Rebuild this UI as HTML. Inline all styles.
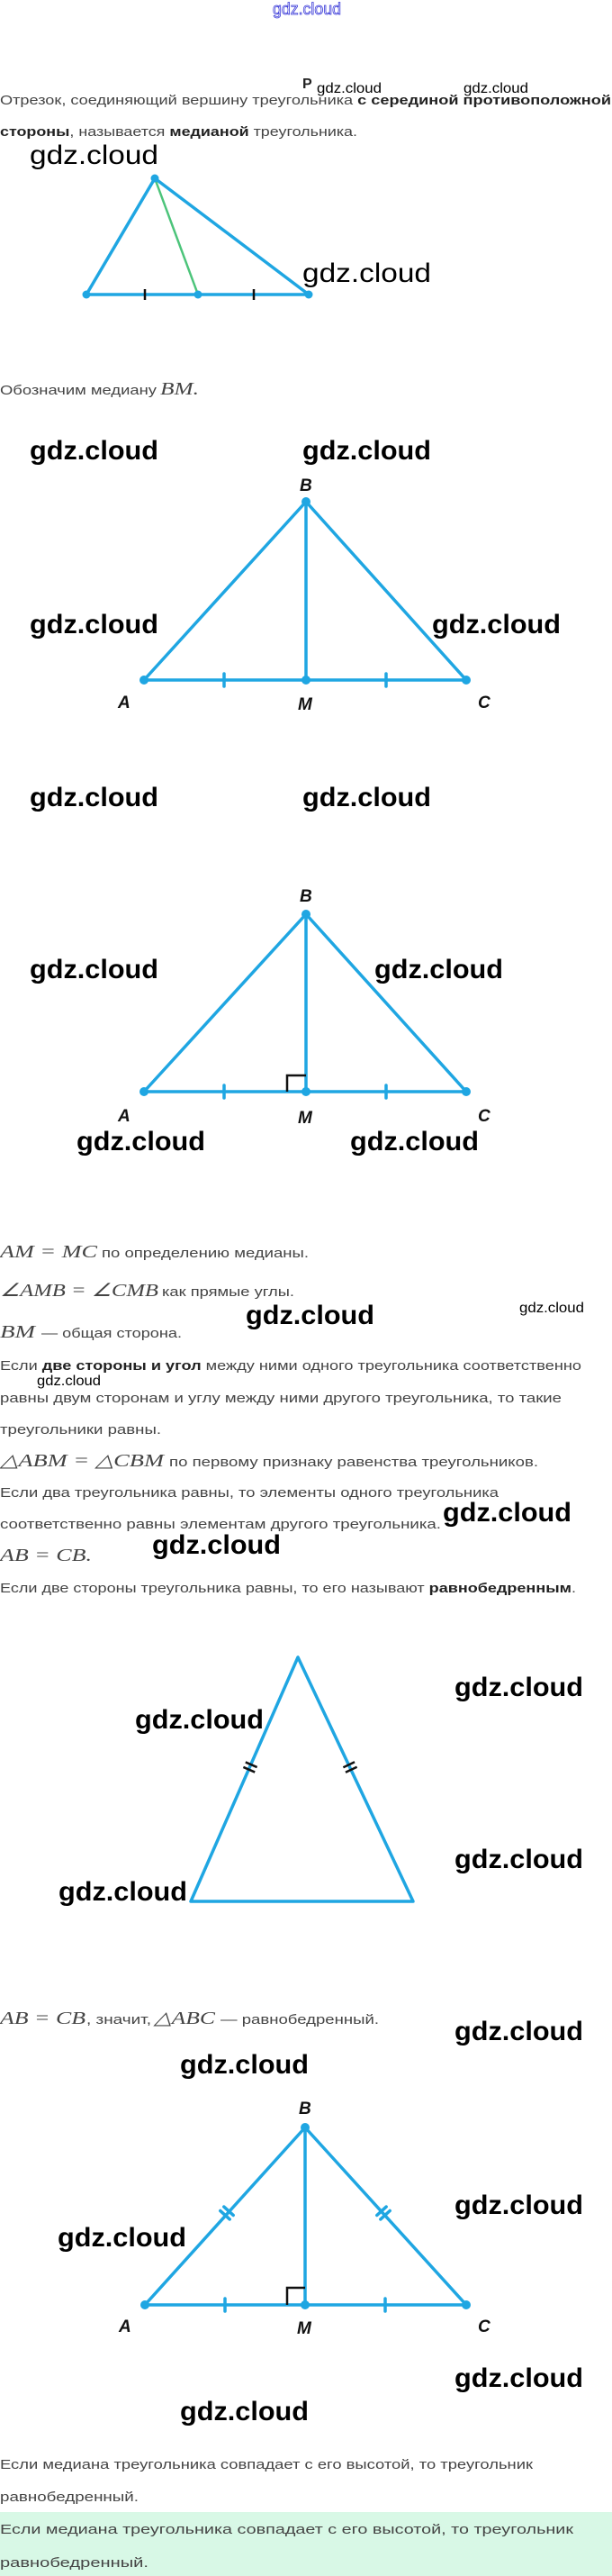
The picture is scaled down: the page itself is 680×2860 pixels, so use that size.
<!DOCTYPE html>
<html><head><meta charset="utf-8"><style>
html,body{margin:0;padding:0;background:#fff;}
svg{display:block;}
.t{font-family:"Liberation Sans","Noto Sans CJK SC",sans-serif;font-size:15px;fill:#444;}
.b{font-weight:bold;fill:#222;}
.m{font-family:"Liberation Serif",serif;font-style:italic;font-size:20px;fill:#444;}
.w{font-family:"Liberation Sans",sans-serif;font-size:30px;font-weight:bold;fill:#000;}
.wr{font-family:"Liberation Sans",sans-serif;font-size:30px;fill:#000;}
.ws{font-family:"Liberation Sans",sans-serif;font-size:16px;fill:#000;}
.L{font-family:"Liberation Sans",sans-serif;font-size:19px;font-weight:bold;font-style:italic;fill:#111;}
.s{stroke:#1fa6e2;stroke-width:3.5;fill:none;stroke-linecap:round;stroke-linejoin:round;}
.k{stroke:#111;stroke-width:2.5;}
.p{fill:#1fa6e2;}
</style></head><body>
<svg width="680" height="2860" viewBox="0 0 680 2860" xmlns="http://www.w3.org/2000/svg">
<text x="303" y="16" font-family="Liberation Sans,sans-serif" font-size="18" fill="none" stroke="#3a3ad8" stroke-width="0.8" textLength="76" lengthAdjust="spacingAndGlyphs">gdz.cloud</text>
<text x="336" y="98" font-family="Liberation Sans,sans-serif" font-size="16" font-weight="bold" fill="#222">Р</text>
<text x="352" y="103" class="ws" font-size="18" textLength="72" lengthAdjust="spacingAndGlyphs">gdz.cloud</text>
<text x="515" y="103" class="ws" font-size="18" textLength="72" lengthAdjust="spacingAndGlyphs">gdz.cloud</text>
<text x="0" y="116" class="t" textLength="679" lengthAdjust="spacingAndGlyphs">Отрезок, соединяющий вершину треугольника <tspan class="b">с серединой противоположной</tspan></text>
<text x="0" y="151" class="t" textLength="397" lengthAdjust="spacingAndGlyphs"><tspan class="b">стороны</tspan>, называется <tspan class="b">медианой</tspan> треугольника.</text>
<text x="33" y="182" class="wr" textLength="143" lengthAdjust="spacingAndGlyphs">gdz.cloud</text>
<path class="s" d="M172 198 L96 327 L343 327 Z"/>
<line x1="172" y1="198" x2="220" y2="327" stroke="#4cc47a" stroke-width="2.5"/>
<line class="k" x1="161" y1="321" x2="161" y2="333"/><line class="k" x1="282" y1="321" x2="282" y2="333"/>
<circle class="p" cx="172" cy="198" r="4.5"/><circle class="p" cx="96" cy="327" r="4.5"/><circle class="p" cx="220" cy="327" r="4.5"/><circle class="p" cx="343" cy="327" r="4.5"/>
<text x="336" y="313" class="wr" textLength="143" lengthAdjust="spacingAndGlyphs">gdz.cloud</text>
<text x="0" y="438" class="t" textLength="174" lengthAdjust="spacingAndGlyphs">Обозначим медиану</text>
<text x="178" y="438" class="m" textLength="43" lengthAdjust="spacingAndGlyphs">BM.</text>
<text x="33" y="510" class="w" textLength="143" lengthAdjust="spacingAndGlyphs">gdz.cloud</text>
<text x="336" y="510" class="w" textLength="143" lengthAdjust="spacingAndGlyphs">gdz.cloud</text>
<path class="s" d="M340 557 L160 755 L518 755 Z M340 557 L340 755"/>
<line class="s" x1="249" y1="748" x2="249" y2="762"/><line class="s" x1="429" y1="748" x2="429" y2="762"/>
<circle class="p" cx="340" cy="557" r="5"/><circle class="p" cx="160" cy="755" r="5"/><circle class="p" cx="340" cy="755" r="5"/><circle class="p" cx="518" cy="755" r="5"/>
<text x="333" y="545" class="L">B</text><text x="131" y="786" class="L">A</text><text x="331" y="788" class="L">M</text><text x="531" y="786" class="L">C</text>
<text x="33" y="703" class="w" textLength="143" lengthAdjust="spacingAndGlyphs">gdz.cloud</text>
<text x="480" y="703" class="w" textLength="143" lengthAdjust="spacingAndGlyphs">gdz.cloud</text>
<text x="33" y="895" class="w" textLength="143" lengthAdjust="spacingAndGlyphs">gdz.cloud</text>
<text x="336" y="895" class="w" textLength="143" lengthAdjust="spacingAndGlyphs">gdz.cloud</text>
<path class="s" d="M340 1015 L160 1212 L518 1212 Z M340 1015 L340 1212"/>
<line class="s" x1="249" y1="1205" x2="249" y2="1219"/><line class="s" x1="429" y1="1205" x2="429" y2="1219"/>
<path d="M319 1212 V1194 H340" fill="none" stroke="#111" stroke-width="2.5"/>
<circle class="p" cx="340" cy="1015" r="5"/><circle class="p" cx="160" cy="1212" r="5"/><circle class="p" cx="340" cy="1212" r="5"/><circle class="p" cx="518" cy="1212" r="5"/>
<text x="333" y="1001" class="L">B</text><text x="131" y="1245" class="L">A</text><text x="331" y="1247" class="L">M</text><text x="531" y="1245" class="L">C</text>
<text x="33" y="1086" class="w" textLength="143" lengthAdjust="spacingAndGlyphs">gdz.cloud</text>
<text x="416" y="1086" class="w" textLength="143" lengthAdjust="spacingAndGlyphs">gdz.cloud</text>
<text x="85" y="1277" class="w" textLength="143" lengthAdjust="spacingAndGlyphs">gdz.cloud</text>
<text x="389" y="1277" class="w" textLength="143" lengthAdjust="spacingAndGlyphs">gdz.cloud</text>
<text x="0" y="1396" class="m" textLength="108" lengthAdjust="spacingAndGlyphs">AM = MC</text><text x="113" y="1396" class="t" textLength="230" lengthAdjust="spacingAndGlyphs">по определению медианы.</text>
<text x="0" y="1439" class="m" textLength="176" lengthAdjust="spacingAndGlyphs">∠AMB = ∠CMB</text><text x="180" y="1439" class="t" textLength="147" lengthAdjust="spacingAndGlyphs">как прямые углы.</text>
<text x="273" y="1470" class="w" textLength="143" lengthAdjust="spacingAndGlyphs">gdz.cloud</text>
<text x="577" y="1457" class="ws" textLength="72" lengthAdjust="spacingAndGlyphs">gdz.cloud</text>
<text x="0" y="1485" class="m" textLength="39" lengthAdjust="spacingAndGlyphs">BM</text><text x="46" y="1485" class="t" textLength="156" lengthAdjust="spacingAndGlyphs">— общая сторона.</text>
<text x="0" y="1521" class="t" textLength="646" lengthAdjust="spacingAndGlyphs">Если <tspan class="b">две стороны и угол</tspan> между ними одного треугольника соответственно</text>
<text x="41" y="1538" class="ws" textLength="71" lengthAdjust="spacingAndGlyphs">gdz.cloud</text>
<text x="0" y="1557" class="t" textLength="624" lengthAdjust="spacingAndGlyphs">равны двум сторонам и углу между ними другого треугольника, то такие</text>
<text x="0" y="1592" class="t" textLength="179" lengthAdjust="spacingAndGlyphs">треугольники равны.</text>
<text x="0" y="1628" class="m" textLength="182" lengthAdjust="spacingAndGlyphs">△ABM = △CBM</text><text x="188" y="1628" class="t" textLength="410" lengthAdjust="spacingAndGlyphs">по первому признаку равенства треугольников.</text>
<text x="0" y="1662" class="t" textLength="554" lengthAdjust="spacingAndGlyphs">Если два треугольника равны, то элементы одного треугольника</text>
<text x="0" y="1697" class="t" textLength="490" lengthAdjust="spacingAndGlyphs">соответственно равны элементам другого треугольника.</text>
<text x="492" y="1689" class="w" textLength="143" lengthAdjust="spacingAndGlyphs">gdz.cloud</text>
<text x="0" y="1733" class="m" textLength="102" lengthAdjust="spacingAndGlyphs">AB = CB.</text>
<text x="169" y="1725" class="w" textLength="143" lengthAdjust="spacingAndGlyphs">gdz.cloud</text>
<text x="0" y="1768" class="t" textLength="640" lengthAdjust="spacingAndGlyphs">Если две стороны треугольника равны, то его называют <tspan class="b">равнобедренным</tspan>.</text>
<path class="s" d="M331 1840 L212 2111 L459 2111 Z"/>
<g transform="translate(278,1962) rotate(-66.3)"><line class="k" x1="-3" y1="-7" x2="-3" y2="7"/><line class="k" x1="3" y1="-7" x2="3" y2="7"/></g>
<g transform="translate(389,1962) rotate(64.7)"><line class="k" x1="-3" y1="-7" x2="-3" y2="7"/><line class="k" x1="3" y1="-7" x2="3" y2="7"/></g>
<text x="505" y="1883" class="w" textLength="143" lengthAdjust="spacingAndGlyphs">gdz.cloud</text>
<text x="150" y="1919" class="w" textLength="143" lengthAdjust="spacingAndGlyphs">gdz.cloud</text>
<text x="505" y="2074" class="w" textLength="143" lengthAdjust="spacingAndGlyphs">gdz.cloud</text>
<text x="65" y="2110" class="w" textLength="143" lengthAdjust="spacingAndGlyphs">gdz.cloud</text>
<text x="0" y="2247" class="m" textLength="95" lengthAdjust="spacingAndGlyphs">AB = CB</text><text x="96" y="2247" class="t" textLength="72" lengthAdjust="spacingAndGlyphs">, значит,</text><text x="171" y="2247" class="m" textLength="68" lengthAdjust="spacingAndGlyphs">△ABC</text><text x="245" y="2247" class="t" textLength="176" lengthAdjust="spacingAndGlyphs">— равнобедренный.</text>
<text x="505" y="2265" class="w" textLength="143" lengthAdjust="spacingAndGlyphs">gdz.cloud</text>
<text x="200" y="2302" class="w" textLength="143" lengthAdjust="spacingAndGlyphs">gdz.cloud</text>
<path class="s" d="M339 2362 L161 2559 L518 2559 Z M339 2362 L339 2559"/>
<line class="s" x1="250" y1="2552" x2="250" y2="2566"/><line class="s" x1="428" y1="2552" x2="428" y2="2566"/>
<g transform="translate(252,2457) rotate(-47.9)"><line class="s" x1="-3" y1="-7" x2="-3" y2="7" stroke-width="2.5"/><line class="s" x1="3" y1="-7" x2="3" y2="7" stroke-width="2.5"/></g>
<g transform="translate(426,2457) rotate(47.7)"><line class="s" x1="-3" y1="-7" x2="-3" y2="7" stroke-width="2.5"/><line class="s" x1="3" y1="-7" x2="3" y2="7" stroke-width="2.5"/></g>
<path d="M319 2559 V2540 H339" fill="none" stroke="#111" stroke-width="2.5"/>
<circle class="p" cx="339" cy="2362" r="5"/><circle class="p" cx="161" cy="2559" r="5"/><circle class="p" cx="339" cy="2559" r="5"/><circle class="p" cx="518" cy="2559" r="5"/>
<text x="332" y="2347" class="L">B</text><text x="132" y="2589" class="L">A</text><text x="330" y="2591" class="L">M</text><text x="531" y="2589" class="L">C</text>
<text x="505" y="2458" class="w" textLength="143" lengthAdjust="spacingAndGlyphs">gdz.cloud</text>
<text x="64" y="2494" class="w" textLength="143" lengthAdjust="spacingAndGlyphs">gdz.cloud</text>
<text x="505" y="2650" class="w" textLength="143" lengthAdjust="spacingAndGlyphs">gdz.cloud</text>
<text x="200" y="2687" class="w" textLength="143" lengthAdjust="spacingAndGlyphs">gdz.cloud</text>
<text x="0" y="2741" class="t" textLength="592" lengthAdjust="spacingAndGlyphs">Если медиана треугольника совпадает с его высотой, то треугольник</text>
<text x="0" y="2777" class="t" textLength="154" lengthAdjust="spacingAndGlyphs">равнобедренный.</text>
<rect x="0" y="2789" width="680" height="71" fill="#d8f8e6"/>
<text x="0" y="2813" class="t" font-size="16" fill="#333" textLength="637" lengthAdjust="spacingAndGlyphs">Если медиана треугольника совпадает с его высотой, то треугольник</text>
<text x="0" y="2850" class="t" font-size="16" fill="#333" textLength="165" lengthAdjust="spacingAndGlyphs">равнобедренный.</text>
</svg>
</body></html>
